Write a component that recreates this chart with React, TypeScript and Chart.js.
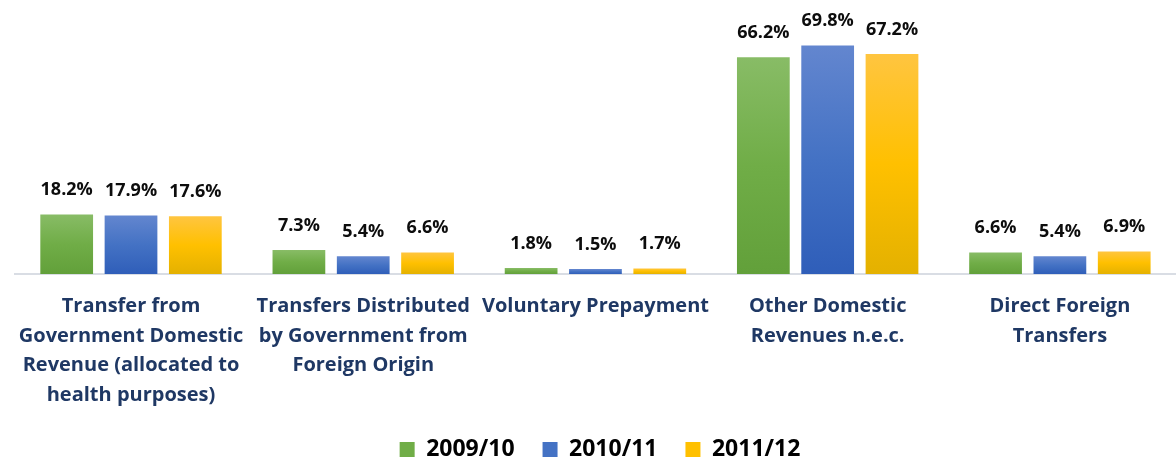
import React, { useEffect, useRef } from "react";
import { Chart, registerables } from "chart.js";

Chart.register(...registerables);

const categories: string[][] = [
  ["Transfer from", "Government Domestic", "Revenue (allocated to", "health purposes)"],
  ["Transfers Distributed", "by Government from", "Foreign Origin"],
  ["Voluntary Prepayment"],
  ["Other Domestic", "Revenues n.e.c."],
  ["Direct Foreign", "Transfers"],
];
const seriesNames = ["2009/10", "2010/11", "2011/12"];
const values2009: number[] = [18.2, 7.3, 1.8, 66.2, 6.6];
const values2010: number[] = [17.9, 5.4, 1.5, 69.8, 5.4];
const values2011: number[] = [17.6, 6.6, 1.7, 67.2, 6.9];

const gradStops: string[][] = [
  ["#88BC66", "#70AD47", "#62A03A"],
  ["#6386CF", "#4472C4", "#2F5EB9"],
  ["#FFC540", "#FFC000", "#E4B100"],
];

const FONT = "'Open Sans', Lato, sans-serif";

function barGradient(stops: string[]) {
  return (ctx: any) => {
    const chart = ctx.chart;
    const { chartArea, scales } = chart;
    if (!chartArea || ctx.type !== "data" || !scales.y) return stops[1];
    const y0 = scales.y.getPixelForValue(ctx.raw);
    const y1 = scales.y.getPixelForValue(0);
    if (!isFinite(y0) || !isFinite(y1) || Math.abs(y1 - y0) < 1) return stops[1];
    const g = chart.ctx.createLinearGradient(0, y0, 0, y1);
    g.addColorStop(0, stops[0]);
    g.addColorStop(0.5, stops[1]);
    g.addColorStop(1, stops[2]);
    return g;
  };
}

const valueLabels = {
  id: "valueLabels",
  afterDatasetsDraw(chart: any) {
    const ctx = chart.ctx;
    ctx.save();
    ctx.font = `bold 18px ${FONT}`;
    ctx.fillStyle = "#0D0D0D";
    ctx.textAlign = "center";
    ctx.textBaseline = "alphabetic";
    chart.data.datasets.forEach((ds: any, di: number) => {
      const meta = chart.getDatasetMeta(di);
      meta.data.forEach((el: any, i: number) => {
        ctx.fillText(ds.data[i].toFixed(1) + "%", el.x, el.y - 19);
      });
    });
    ctx.restore();
  },
};

const legendShift = {
  id: "legendShift",
  afterLayout(chart: any) {
    if (chart.legend) {
      chart.legend.left += 8;
      chart.legend.right += 8;
    }
  },
};

export default function App() {
  const ref = useRef<HTMLCanvasElement | null>(null);
  useEffect(() => {
    if (!ref.current) return;
    const seriesValues = [values2009, values2010, values2011];
    const chart = new Chart(ref.current, {
      type: "bar",
      data: {
        labels: categories,
        datasets: seriesNames.map((name, i) => ({
          label: name,
          data: seriesValues[i],
          backgroundColor: barGradient(gradStops[i]),
          borderWidth: 0,
          categoryPercentage: 0.831,
          barPercentage: 0.82,
        })),
      },
      options: {
        animation: false,
        responsive: false,
        devicePixelRatio: 1,
        layout: { padding: { left: 8, right: 14, top: 12, bottom: 0 } },
        scales: {
          x: {
            grid: { display: false, drawTicks: false },
            border: { display: true, color: "#D9DDE4", width: 2 },
            ticks: {
              padding: 18,
              color: "#1F3864",
              font: { family: FONT, size: 20, weight: "bold", lineHeight: 1.475 },
              maxRotation: 0,
              autoSkip: false,
            },
            afterFit: (scale: any) => {
              scale.height = 136;
            },
          },
          y: { display: false, min: 0, max: 80 },
        },
        plugins: {
          tooltip: { enabled: false },
          legend: {
            position: "bottom",
            labels: {
              boxWidth: 15,
              boxHeight: 15,
              padding: 28,
              color: "#44546A",
              font: { family: FONT, size: 23, weight: "bold" },
              generateLabels: () =>
                seriesNames.map((name, i) => ({
                  text: name,
                  fillStyle: gradStops[i][1],
                  strokeStyle: gradStops[i][1],
                  lineWidth: 0,
                  hidden: false,
                  datasetIndex: i,
                })),
            },
          },
        },
      },
      plugins: [valueLabels, legendShift],
    } as any);
    return () => chart.destroy();
  }, []);
  return (
    <div style={{ position: "absolute", left: 0, top: 0, width: 1176, height: 464, overflow: "hidden", background: "#fff" }}>
      <canvas ref={ref} width={1190} height={471} style={{ width: 1190, height: 471, display: "block" }} />
    </div>
  );
}
